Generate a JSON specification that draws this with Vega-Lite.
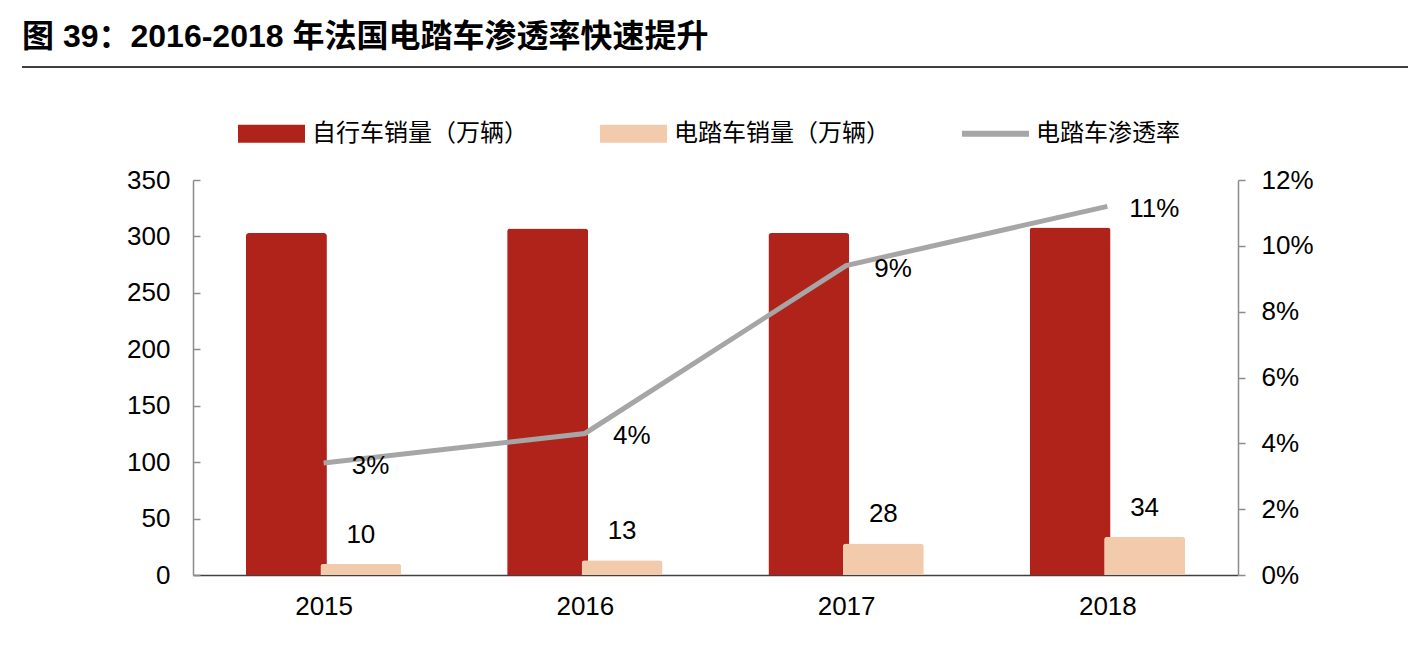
{
  "$schema": "https://vega.github.io/schema/vega-lite/v6.json",
  "description": "2016-2018 法国自行车与电踏车销量及电踏车渗透率",
  "autosize": "none",
  "width": 1045,
  "height": 395,
  "padding": {"left": 193, "top": 180, "right": 170, "bottom": 79},
  "background": "white",
  "title": {
    "text": "图 39：2016-2018 年法国电踏车渗透率快速提升",
    "anchor": "start",
    "frame": "group",
    "font": "Liberation Sans, Noto Sans CJK SC",
    "fontSize": 32,
    "fontWeight": "bold",
    "color": "#000000",
    "offset": 0,
    "dx": -171,
    "dy": -12
  },
  "datasets": {
    "sales": [
      {"year": "2015", "series": "自行车销量（万辆）", "value": 303},
      {"year": "2016", "series": "自行车销量（万辆）", "value": 307},
      {"year": "2017", "series": "自行车销量（万辆）", "value": 303},
      {"year": "2018", "series": "自行车销量（万辆）", "value": 308},
      {"year": "2015", "series": "电踏车销量（万辆）", "value": 10},
      {"year": "2016", "series": "电踏车销量（万辆）", "value": 13},
      {"year": "2017", "series": "电踏车销量（万辆）", "value": 28},
      {"year": "2018", "series": "电踏车销量（万辆）", "value": 34}
    ],
    "rate": [
      {"year": "2015", "rate": 0.034},
      {"year": "2016", "rate": 0.043},
      {"year": "2017", "rate": 0.094},
      {"year": "2018", "rate": 0.112}
    ],
    "one": [{}]
  },
  "encoding": {
    "x": {
      "field": "year",
      "type": "nominal",
      "scale": {"paddingInner": 0.43, "paddingOuter": 0.215},
      "axis": {
        "title": null,
        "labelAngle": 0,
        "tickBand": "extent",
        "tickSize": -7,
        "labelPadding": 25,
        "domainColor": "#404040",
        "tickColor": "#404040"
      }
    }
  },
  "layer": [
    {
      "layer": [
        {
          "data": {"name": "sales"},
          "mark": {"type": "bar", "width": 81, "cornerRadiusTopLeft": 3, "cornerRadiusTopRight": 3},
          "encoding": {
            "xOffset": {
              "field": "series",
              "type": "nominal",
              "scale": {"domain": ["自行车销量（万辆）", "电踏车销量（万辆）"], "paddingInner": 0, "paddingOuter": 0}
            },
            "y": {
              "field": "value",
              "type": "quantitative",
              "scale": {"domain": [0, 350], "nice": false},
              "axis": {
                "title": null,
                "orient": "left",
                "values": [0, 50, 100, 150, 200, 250, 300, 350],
                "grid": false,
                "tickSize": -7,
                "labelPadding": 30,
                "domainColor": "#8c8c8c",
                "tickColor": "#8c8c8c"
              }
            },
            "color": {
              "field": "series",
              "type": "nominal",
              "scale": {
                "domain": ["自行车销量（万辆）", "电踏车销量（万辆）", "电踏车渗透率"],
                "range": ["#b0231b", "#f2cbad", "#a6a6a6"]
              },
              "legend": {
                "title": null,
                "orient": "none",
                "direction": "horizontal",
                "legendX": 45,
                "legendY": -80,
                "padding": 0,
                "columnPadding": 72,
                "labelOffset": 7,
                "symbolSize": 4489,
                "labelFont": "Noto Sans CJK SC",
                "labelFontSize": 24,
                "labelColor": "#000000",
                "labelLimit": 400,
                "encode": {
                  "symbols": {
                    "update": {
                      "shape": {"signal": "datum.value === '电踏车渗透率' ? 'M-1,-0.09L1,-0.09L1,0.09L-1,0.09Z' : 'M-1,-0.27L1,-0.27L1,0.27L-1,0.27Z'"},
                      "fill": {"scale": "color", "field": "value"},
                      "strokeWidth": {"value": 0},
                      "opacity": {"value": 1}
                    }
                  }
                }
              }
            }
          }
        },
        {
          "data": {"name": "sales"},
          "transform": [{"filter": "datum.series === '电踏车销量（万辆）'"}],
          "mark": {"type": "text", "dy": -29, "baseline": "middle", "font": "Liberation Sans", "fontSize": 26, "color": "#000000"},
          "encoding": {
            "xOffset": {"field": "series", "type": "nominal"},
            "y": {"field": "value", "type": "quantitative"},
            "text": {"field": "value", "type": "quantitative"}
          }
        },
        {
          "data": {"name": "one"},
          "mark": {"type": "rule", "color": "#000000", "strokeWidth": 1.5},
          "encoding": {
            "x": {"value": -171},
            "x2": {"value": 1215},
            "y": {"value": -113}
          }
        }
      ]
    },
    {
      "data": {"name": "rate"},
      "layer": [
        {
          "mark": {"type": "line", "strokeWidth": 5, "strokeCap": "butt"},
          "encoding": {
            "y": {
              "field": "rate",
              "type": "quantitative",
              "scale": {"domain": [0, 0.12], "nice": false},
              "axis": {
                "title": null,
                "orient": "right",
                "format": ".0%",
                "values": [0, 0.02, 0.04, 0.06, 0.08, 0.1, 0.12],
                "grid": false,
                "tickSize": 7,
                "labelPadding": 16,
                "domainColor": "#8c8c8c",
                "tickColor": "#8c8c8c"
              }
            },
            "color": {"datum": "电踏车渗透率"}
          }
        },
        {
          "mark": {"type": "text", "dx": 47, "dy": 3, "baseline": "middle", "font": "Liberation Sans", "fontSize": 26, "color": "#000000"},
          "encoding": {
            "y": {"field": "rate", "type": "quantitative"},
            "text": {"field": "rate", "type": "quantitative", "format": ".0%"}
          }
        }
      ]
    }
  ],
  "resolve": {"scale": {"y": "independent"}},
  "config": {
    "view": {"stroke": null},
    "axis": {
      "labelFont": "Liberation Sans",
      "labelFontSize": 26,
      "labelColor": "#000000",
      "domainWidth": 1.5,
      "tickWidth": 1.5
    }
  }
}
